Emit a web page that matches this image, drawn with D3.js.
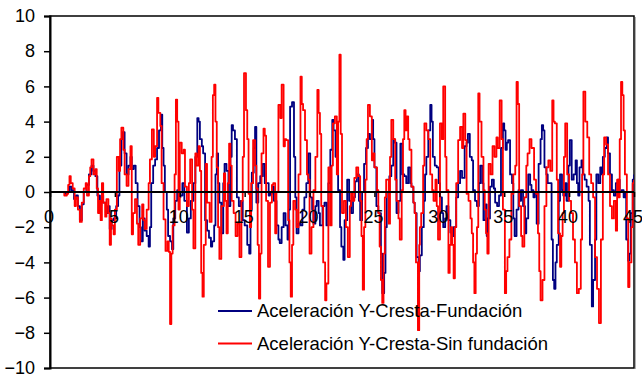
<!DOCTYPE html>
<html>
<head>
<meta charset="utf-8">
<script src="https://cdn.jsdelivr.net/npm/d3@7"></script>
<style>
  html, body { margin: 0; padding: 0; background: #fff; }
  svg { display: block; font-family: "Liberation Sans", Arial, sans-serif; }
</style>
</head>
<body>
<svg id="chart" width="642" height="378"></svg>
<script>
// Time (s) and acceleration readings for the crest, with foundation
const blueTime = [0,1.0,1.15,1.3,1.5,1.65,1.85,2.0,2.15,2.3,2.45,2.6,2.8,3.0,3.2,3.35,3.5,3.65,3.8,3.95,4.1,4.3,4.45,4.6,4.75,4.9,5.1,5.25,5.35,5.5,5.6,5.75,5.9,6.05,6.2,6.3,6.45,6.6,6.75,6.9,7.0,7.15,7.3,7.45,7.6,7.7,7.8,7.95,8.1,8.25,8.4,8.55,8.65,8.75,8.85,9.0,9.1,9.25,9.4,9.5,9.65,9.8,9.9,10.05,10.2,10.35,10.55,10.7,10.85,11.05,11.2,11.35,11.45,11.55,11.7,11.8,11.95,12.1,12.25,12.4,12.5,12.65,12.75,12.85,12.95,13.05,13.2,13.35,13.45,13.6,13.75,13.9,14.0,14.1,14.25,14.4,14.55,14.7,14.85,15.0,15.2,15.35,15.45,15.55,15.7,15.8,15.9,16.05,16.2,16.4,16.55,16.7,16.85,16.95,17.1,17.25,17.45,17.6,17.7,17.85,18.0,18.15,18.3,18.4,18.5,18.65,18.8,18.9,19.0,19.15,19.3,19.45,19.6,19.75,19.9,20.05,20.2,20.3,20.45,20.55,20.7,20.8,21.0,21.15,21.3,21.45,21.6,21.75,21.85,22.0,22.1,22.2,22.35,22.45,22.6,22.7,22.9,23.05,23.2,23.35,23.5,23.65,23.8,23.9,24.05,24.2,24.35,24.5,24.65,24.8,24.9,25.0,25.15,25.3,25.4,25.5,25.6,25.75,25.85,25.95,26.15,26.3,26.45,26.55,26.7,26.85,27.0,27.15,27.3,27.45,27.6,27.75,27.85,28.0,28.1,28.25,28.4,28.5,28.65,28.8,28.9,29.0,29.15,29.3,29.4,29.5,29.65,29.8,29.95,30.05,30.2,30.3,30.45,30.55,30.7,30.85,31.0,31.1,31.3,31.45,31.6,31.75,31.95,32.1,32.2,32.35,32.5,32.6,32.75,32.9,33.05,33.15,33.3,33.4,33.55,33.65,33.75,33.9,34.05,34.2,34.3,34.45,34.6,34.75,34.9,35.0,35.1,35.2,35.3,35.45,35.6,35.7,35.8,35.95,36.1,36.2,36.3,36.45,36.6,36.7,36.85,37.0,37.1,37.25,37.35,37.5,37.65,37.8,37.9,38.0,38.1,38.25,38.35,38.5,38.65,38.75,38.85,38.95,39.05,39.2,39.3,39.45,39.55,39.7,39.8,39.95,40.05,40.2,40.35,40.5,40.6,40.7,40.8,40.95,41.05,41.2,41.35,41.5,41.6,41.75,41.85,42.0,42.1,42.25,42.4,42.5,42.6,42.75,42.9,43.0,43.15,43.3,43.45,43.6,43.75,43.9,44.05,44.2,44.3,44.4,44.55,44.65,44.75,44.9,45.0];
const blueAccel = [0,0,-0.1,0.0,0.3,0.1,-0.4,-0.2,-0.8,-1.6,-0.7,0.0,0.4,1.0,1.5,1.2,0.9,-0.2,-0.8,-0.2,-0.6,-1.2,-0.8,-2.1,-1.6,-1.5,-0.8,-0.2,1.5,3.0,3.4,2.2,1.0,1.5,2.0,1.3,1.5,0.5,-0.8,-2.0,-2.8,-1.5,-2.2,-2.5,-3.1,-2.0,0.5,1.5,1.85,2.5,3.5,4.4,2.5,1.5,0.0,-1.0,-2.5,-2.8,-3.25,-1.5,-0.5,0.1,-0.3,-0.2,0.5,-0.5,-2.3,-1.5,-0.5,0.5,2.0,4.2,4.0,3.0,2.6,2.2,-1.6,-2.2,-2.6,-3.1,-2.8,-1.9,1.0,2.2,0.5,-0.6,-2.35,0.5,1.6,1.2,-0.8,2.0,3.8,3.5,3.0,-0.3,-0.8,-0.5,-1.6,-1.9,-3.0,-3.5,-1.0,1.1,2.5,3.7,-0.6,0.5,0.9,1.6,0.5,0.5,-0.2,-0.1,0.3,-0.5,-1.9,-2.7,-2.9,-2.0,-1.2,-1.9,-2.7,-1.0,4.85,5.1,2.0,-0.3,-2.35,-1.8,-1.9,-1.0,-0.3,0.5,2.2,-0.3,-1.0,-1.8,-0.8,-0.5,-1.2,-1.9,-0.8,-0.6,-1.9,0.5,2.4,4.1,3.5,2.0,2.4,0.1,-2.0,-3.1,-3.85,-1.6,0.7,-0.5,-1.2,-0.3,0.6,1.0,-0.5,-1.6,0.0,1.6,2.5,3.3,3.0,4.1,3.0,1.4,-0.8,-1.2,-1.2,-3.5,-5.75,-4.6,-2.0,0.0,0.9,1.5,3.0,2.8,-1.2,-0.5,2.75,1.0,0.9,0.5,1.4,0.5,0.3,-0.6,-1.2,-3.7,-4.5,-3.6,-2.0,-0.5,1.0,2.0,3.5,4.95,4.0,2.0,1.5,1.4,0.5,-0.3,-1.2,-2.0,-1.5,-0.8,-1.6,-2.3,-2.5,-2.0,-0.3,0.5,1.2,0.8,2.6,2.8,3.3,2.0,1.8,0.1,-0.5,-0.8,0.5,1.5,0.5,-1.6,-0.7,-2.5,-1.5,0.3,0.7,0.2,-0.6,-0.8,-0.2,2.5,3.9,3.5,2.4,2.8,2.95,1.0,0.5,-1.5,-2.5,-1.0,0.1,-0.5,0.1,-0.8,-2.35,-1.5,1.0,0.4,0.1,-0.3,-0.1,-1.8,1.6,3.0,3.8,3.5,1.4,1.0,0.5,0.5,-2.7,-5.0,-5.5,-4.0,-3.0,-0.5,1.0,0.1,-0.2,0.5,-0.5,1.5,2.95,0.7,1.0,1.8,0.5,-0.2,1.4,1.8,1.0,0.7,0.3,-0.5,-3.0,-6.5,-5.0,-2.7,1.0,0.5,1.4,1.0,2.0,2.5,3.1,2.2,1.0,0.1,-0.2,0.5,0.7,0.0,0.1,-0.3,0.0,-2.7,-3.9,-3.5,-1.2,0.7,1.0];

// Time (s) and acceleration readings for the crest, without foundation
const redTime = [0,0.5,1.0,1.1,1.3,1.4,1.5,1.6,1.75,1.9,2.0,2.15,2.3,2.45,2.6,2.75,2.85,3.0,3.1,3.2,3.35,3.5,3.6,3.7,3.8,3.9,4.0,4.1,4.25,4.35,4.5,4.6,4.7,4.75,4.9,5.0,5.15,5.3,5.4,5.5,5.65,5.75,5.9,6.05,6.2,6.3,6.4,6.55,6.7,6.8,6.95,7.1,7.2,7.3,7.45,7.6,7.7,7.85,8.0,8.1,8.25,8.35,8.5,8.6,8.75,8.9,9.05,9.15,9.25,9.35,9.45,9.6,9.7,9.8,9.9,10.0,10.15,10.3,10.4,10.55,10.7,10.8,10.95,11.05,11.2,11.3,11.45,11.55,11.65,11.75,11.85,12.0,12.1,12.3,12.45,12.55,12.65,12.75,12.85,12.95,13.05,13.2,13.4,13.5,13.6,13.7,13.8,13.9,14.0,14.15,14.3,14.45,14.6,14.75,14.85,14.95,15.1,15.2,15.3,15.4,15.5,15.65,15.8,15.9,16.0,16.1,16.2,16.3,16.45,16.55,16.65,16.8,16.95,17.1,17.2,17.35,17.45,17.6,17.75,17.85,18.0,18.1,18.2,18.35,18.45,18.55,18.65,18.75,18.9,19.0,19.15,19.3,19.4,19.5,19.65,19.8,19.9,20.0,20.15,20.3,20.45,20.6,20.7,20.8,20.9,21.05,21.2,21.3,21.45,21.6,21.7,21.8,21.95,22.1,22.2,22.3,22.4,22.5,22.65,22.8,22.95,23.1,23.2,23.3,23.45,23.6,23.75,23.9,24.0,24.1,24.2,24.3,24.4,24.5,24.65,24.8,24.9,25.0,25.2,25.3,25.4,25.5,25.6,25.7,25.8,25.9,26.1,26.2,26.3,26.45,26.6,26.7,26.85,26.95,27.1,27.2,27.3,27.4,27.5,27.6,27.7,27.85,28.0,28.1,28.2,28.35,28.45,28.5,28.6,28.75,28.85,29.0,29.15,29.3,29.45,29.55,29.7,29.8,29.9,30.05,30.2,30.3,30.45,30.55,30.7,30.8,30.9,31.0,31.1,31.2,31.3,31.45,31.6,31.75,31.85,32.0,32.1,32.25,32.4,32.5,32.6,32.7,32.8,32.9,33.0,33.1,33.25,33.4,33.5,33.6,33.7,33.8,33.95,34.1,34.25,34.4,34.5,34.65,34.8,34.9,35.05,35.15,35.25,35.4,35.55,35.7,35.85,35.95,36.05,36.15,36.3,36.4,36.55,36.7,36.8,36.95,37.1,37.3,37.45,37.6,37.7,37.8,37.95,38.1,38.25,38.4,38.55,38.7,38.8,38.9,39.05,39.15,39.3,39.4,39.5,39.6,39.7,39.85,40.0,40.15,40.3,40.45,40.6,40.75,40.9,41.0,41.1,41.25,41.4,41.55,41.7,41.85,42.0,42.15,42.3,42.45,42.6,42.7,42.85,43.0,43.15,43.3,43.45,43.6,43.7,43.8,43.9,44.0,44.1,44.2,44.3,44.45,44.55,44.65,44.8,44.9,45.0];
const redAccel = [0,0,0,-0.2,-0.1,0.4,0.9,0.5,0.2,-0.8,-0.3,-1.0,-1.7,-0.6,0.2,0.5,-0.2,0.9,1.4,1.85,1.0,1.3,0.2,-1.2,-0.5,-1.6,0.5,-0.6,-1.4,-0.4,-1.2,-3.0,-1.5,-1.9,-2.4,-1.0,2.0,1.2,3.0,3.65,2.4,1.0,0.35,1.3,2.6,-2.4,-1.2,-0.4,-1.8,-3.0,-1.5,-0.7,-1.6,-2.1,-1.0,0.5,1.85,3.55,2.0,2.6,5.35,4.5,3.75,0.5,-1.55,-3.35,-2.8,-3.4,-7.5,-3.5,-1.9,1.0,5.25,4.0,-1.0,2.8,2.2,2.4,0.3,-0.8,0.5,1.85,-1.0,-3.2,2.2,1.5,2.6,1.2,-4.6,-5.95,-3.0,1.6,-0.6,-1.7,2.0,5.5,6.1,4.0,1.4,-2.0,-3.8,-0.8,1.05,-0.5,-2.35,0.5,2.75,1.5,-0.5,-1.2,-2.5,-1.8,-3.7,-0.5,2.0,6.75,4.65,3.0,-0.1,-2.0,0.5,2.95,1.5,0.2,-3.0,-6.05,-3.5,2.2,3.6,3.2,-0.5,-4.25,-0.6,0.4,0.5,-2.35,0.0,4.95,4.2,6.1,2.6,3.0,2.95,-1.6,-4.0,-5.95,-3.0,-0.5,-1.0,-2.0,1.0,6.55,5.0,4.65,2.95,1.0,0.7,-3.5,-2.0,0.1,2.0,5.8,4.5,3.3,-0.8,-4.0,-6.15,-5.2,1.4,-1.9,1.5,3.9,4.3,1.0,4.0,7.8,3.3,-1.2,-0.5,-2.0,-3.7,-0.8,0.0,-0.5,0.8,1.4,0.9,-0.5,-2.5,-5.55,-2.0,0.7,3.0,4.95,4.3,1.8,2.2,1.4,0.1,-1.2,-3.1,-5.0,-6.3,-3.5,-0.3,0.7,-1.8,2.0,4.1,3.0,0.7,-0.5,-1.5,-2.7,0.1,3.0,4.65,3.5,4.3,3.0,2.4,0.3,-0.6,-1.2,-4.0,-7.85,-3.0,-2.0,-1.2,1.5,3.9,3.5,3.0,1.0,0.1,-0.5,0.7,-0.8,-2.7,3.9,3.0,6.0,2.0,0.1,-4.6,-3.0,-2.0,-3.0,-4.9,-2.0,0.5,2.95,3.7,2.5,4.45,2.95,-0.1,-0.5,-1.5,-2.35,-4.0,-5.75,-3.5,-2.0,5.6,4.0,2.0,0.1,-1.0,-2.35,-3.5,1.6,1.0,2.6,2.0,3.1,2.5,5.2,3.0,-1.0,-5.75,-4.5,-3.7,-2.7,-0.1,1.0,1.5,6.25,5.0,-0.8,-2.5,-3.1,-0.3,1.5,2.2,3.0,2.5,0.7,-0.1,-2.35,-4.5,-6.15,-5.0,-0.8,1.4,1.8,1.2,5.2,4.0,3.9,0.7,-2.35,-4.25,-2.5,-1.2,2.0,3.9,1.0,-0.5,-1.2,-2.7,-4.0,-5.75,-5.5,-2.7,1.0,5.7,4.0,3.1,1.0,0.5,-0.3,-3.7,-5.5,-7.45,-2.7,1.0,3.1,2.7,1.0,-0.8,-1.5,-0.5,-2.2,0.7,-0.3,3.0,6.25,5.5,3.5,1.0,-1.5,-5.4,-4.0,-2.0,0.5,0.7];

// Axis ticks and legend labels
const yTicks = [-10, -8, -6, -4, -2, 0, 2, 4, 6, 8, 10];
const xTicks = [0, 5, 10, 15, 20, 25, 30, 35, 40, 45];
const seriesNames = ["Aceleración Y-Cresta-Fundación", "Aceleración Y-Cresta-Sin fundación"];
const seriesColors = ["#000080", "#ff0000"];

const svg = d3.select("#chart");
const plotLeft = 50, plotRight = 634, plotTop = 16, plotBottom = 368;

const x = d3.scaleLinear().domain([0, 45]).range([plotLeft, plotRight]);
const y = d3.scaleLinear().domain([-10, 10]).range([plotBottom, plotTop]);

// Plot area frame with a faint shadow on the right
svg.append("line")
  .attr("x1", plotRight + 1.5).attr("x2", plotRight + 1.5)
  .attr("y1", plotTop + 1).attr("y2", plotBottom + 1)
  .attr("stroke", "#b0b0b0").attr("stroke-width", 1);
svg.append("rect")
  .attr("x", plotLeft).attr("y", plotTop)
  .attr("width", plotRight - plotLeft).attr("height", plotBottom - plotTop)
  .attr("fill", "none").attr("stroke", "#000").attr("stroke-width", 1.5);

svg.append("defs").append("clipPath").attr("id", "plot-clip")
  .append("rect")
  .attr("x", plotLeft).attr("y", plotTop)
  .attr("width", plotRight - plotLeft).attr("height", plotBottom - plotTop);

// Series lines, held between samples: with foundation first, without foundation on top
const line = d3.line()
  .curve(d3.curveStepAfter)
  .x(d => x(d[0]))
  .y(d => y(d[1]));

const series = [
  d3.zip(blueTime, blueAccel),
  d3.zip(redTime, redAccel)
];

svg.append("g").attr("clip-path", "url(#plot-clip)")
  .selectAll("path")
  .data(series)
  .join("path")
  .attr("d", line)
  .attr("fill", "none")
  .attr("stroke", (d, i) => seriesColors[i])
  .attr("stroke-width", 1.8)
  .attr("stroke-linejoin", "round");

// Vertical axis
const yAxis = svg.append("g")
  .attr("transform", `translate(${plotLeft},0)`)
  .call(d3.axisLeft(y).tickValues(yTicks).tickSize(6).tickPadding(9).tickFormat(d3.format("d")));
yAxis.select(".domain").attr("stroke-width", 2);
yAxis.selectAll(".tick line").attr("stroke-width", 1.5);
yAxis.selectAll("text")
  .attr("font-size", 18)
  .attr("font-family", "'Liberation Sans', Arial, sans-serif")
  .attr("fill", "#000");

// Horizontal axis crossing at zero
const xAxis = svg.append("g")
  .attr("transform", `translate(0,${y(0)})`)
  .call(d3.axisBottom(x).tickValues(xTicks).tickSize(5).tickPadding(13));
xAxis.select(".domain").remove();
xAxis.append("line")
  .attr("x1", plotLeft).attr("x2", plotRight)
  .attr("stroke", "#000").attr("stroke-width", 2);
xAxis.selectAll(".tick line").attr("stroke-width", 1.5);
xAxis.selectAll("text")
  .attr("font-size", 18)
  .attr("font-family", "'Liberation Sans', Arial, sans-serif")
  .attr("fill", "#000")
  .attr("dx", -1.5);

// Legend inside the plot area
const legend = svg.append("g").attr("transform", "translate(218,311)");
const items = legend.selectAll("g")
  .data(seriesNames)
  .join("g")
  .attr("transform", (d, i) => `translate(0,${i * 32.6})`);
items.append("line")
  .attr("x1", 0).attr("x2", 34)
  .attr("stroke", (d, i) => seriesColors[i])
  .attr("stroke-width", 2);
items.append("text")
  .attr("x", 39).attr("y", 6)
  .attr("font-size", 18.5)
  .attr("fill", "#000")
  .text(d => d);
</script>
</body>
</html>
